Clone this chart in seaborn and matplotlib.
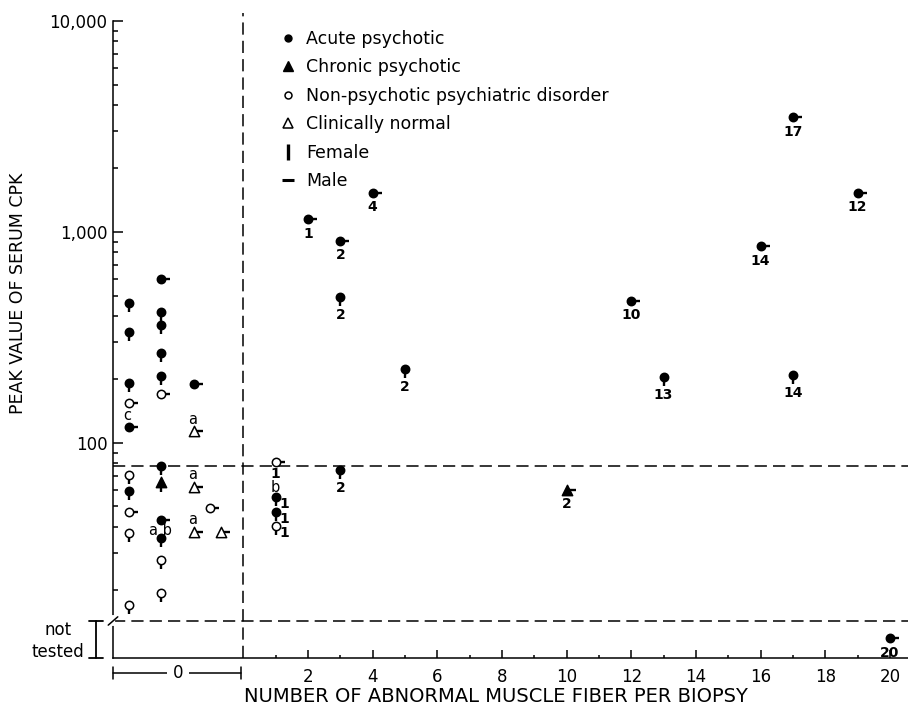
import numpy as np
import pandas as pd
import matplotlib
matplotlib.use("Agg")
import matplotlib.pyplot as plt
import matplotlib.transforms as mtransforms
from matplotlib.path import Path
from matplotlib.lines import Line2D
from matplotlib.ticker import FixedLocator, FuncFormatter, NullFormatter
import seaborn as sns

# values
# fibers = abnormal muscle fibers per biopsy; zero_col = column inside the "0" band
fibers = [0, 0, 0, 0, 0, 0, 0, 0, 0, 0,
          0, 0, 0, 0, 0, 0, 0, 0, 0, 0, 0, 0,
          0, 0, 0, 0, 0, 0,
          1, 1, 1, 1, 3, 2, 3, 3, 4, 5, 10, 12, 13, 16, 17, 17, 19, 20]
zero_col = [1, 1, 1, 1, 1, 1, 1, 1, 1, 1,
            2, 2, 2, 2, 2, 2, 2, 2, 2, 2, 2, 2,
            3, 3, 3, 3, 4, 5,
            0, 0, 0, 0, 0, 0, 0, 0, 0, 0, 0, 0, 0, 0, 0, 0, 0, 0]
cpk = [461, 336, 193, 155, 119, 70.5, 59, 47, 37.5, 17,
       599, 418, 362, 267, 208, 171, 78, 65, 43, 35.5, 28, 19.5,
       190, 114, 62, 38, 49, 38,
       81.5, 55.5, 47, 40.4, 74.5, 1152, 910, 492, 1536, 224, 60, 473, 206, 858, 3496, 210, 1536, np.nan]
group = ["A", "A", "A", "N", "A", "N", "A", "N", "N", "N",
         "A", "A", "A", "A", "A", "N", "A", "C", "A", "A", "N", "N",
         "A", "L", "L", "L", "N", "L",
         "N", "A", "A", "N", "A", "A", "A", "A", "A", "A", "C", "A", "A", "A", "A", "A", "A", "A"]
sex = ["F", "F", "F", "M", "M", "F", "F", "M", "F", "F",
       "M", "F", "F", "F", "F", "M", "F", "F", "M", "F", "F", "F",
       "M", "M", "M", "M", "M", "M",
       "M", "F", "F", "F", "F", "M", "M", "F", "M", "F", "M", "M", "F", "M", "M", "F", "M", "M"]
counts = [""] * 28 + ["1", "1", "1", "1", "2", "1", "2", "2", "4", "2", "2", "10", "13", "14", "17", "14", "12", "20"]
notes = ["", "", "", "", "c", "", "", "", "", "",
         "", "", "", "", "", "", "", "", "a b", "", "", "",
         "", "a", "a", "a", "", "",
         "", "b", "", "", "", "", "", "", "", "", "", "", "", "", "", "", "", ""]

group_names = {"A": "Acute psychotic", "C": "Chronic psychotic",
               "N": "Non-psychotic psychiatric disorder", "L": "Clinically normal"}
normal_limit = 78

# layout
ZERO_COL_X = {1: -3.54, 2: -2.55, 3: -1.52, 4: -1.03, 5: -0.69}
NOT_TESTED_Y = 11.9
BREAK_Y = 14.3
GROUP_STYLE = {"A": ("o", "black", 36), "C": ("^", "black", 55),
               "N": ("o", "white", 36), "L": ("^", "white", 55)}
TAIL_F = Path([(0, 0), (0, -1)])
TAIL_M = Path([(0, 0), (1, 0)])

df = pd.DataFrame({"fibers": fibers, "col": zero_col, "cpk": cpk, "group": group,
                   "sex": sex, "count": counts, "note": notes})
df["xpos"] = [f if f > 0 else ZERO_COL_X[c] for f, c in zip(df.fibers, df.col)]
df["ypos"] = df.cpk.fillna(NOT_TESTED_Y)

sns.set_style("ticks")
plt.rcParams["font.family"] = ["DejaVu Sans"]
plt.rcParams.update({"text.color": "black", "axes.labelcolor": "black",
                     "xtick.color": "black", "ytick.color": "black"})

fig = plt.figure(figsize=(9.08, 7.09), dpi=100)
ax = fig.add_axes([113 / 908, 51 / 709, 795 / 908, 637 / 709])
ax.set_yscale("log")
ax.set_xlim(-4.03, 20.56)
ax.set_ylim(9.57, 10000)

dash = (0, (8, 4))
ax.axhline(normal_limit, color="black", lw=1.1, ls=dash, zorder=1)
ax.axhline(BREAK_Y, color="black", lw=1.1, ls=dash, zorder=1)
ax.axvline(0, ymin=0, ymax=1.012, color="black", lw=1.1, ls=dash, zorder=1, clip_on=False)

# sex tails (female down, male right), then the group symbol on top
sns.scatterplot(data=df, x="xpos", y="ypos", style="sex", markers={"F": TAIL_F, "M": TAIL_M},
                s=170, color="black", edgecolor="black", linewidth=1.7, legend=False, zorder=2, ax=ax)
for g, (mk, fill, size) in GROUP_STYLE.items():
    sub = df[df.group == g]
    sns.scatterplot(x=sub.xpos, y=sub.ypos, marker=mk, s=size, color=fill, edgecolor="black",
                    linewidth=1.1, legend=False, zorder=3, ax=ax)

for _, r in df.iterrows():
    if r["count"]:
        if r.fibers == 1 and r.sex == "F":
            off = (6.5, -5)
        elif r.fibers == 1:
            off = (0, -8.5)
        elif r.sex == "F":
            off = (0, -13)
        else:
            off = (0, -10.5)
        ax.annotate(r["count"], (r.xpos, r.ypos), xytext=off, textcoords="offset points",
                    ha="center", va="center", fontsize=10, fontweight="bold")
    if r.note:
        if r.note == "a b":
            off = (0, -7.5)
        elif r.fibers == 1:
            off = (-0.5, 7)
        else:
            off = (-1, 8.5)
        ax.annotate(r.note, (r.xpos, r.ypos), xytext=off, textcoords="offset points",
                    ha="center", va="center", fontsize=10.5)

ax.yaxis.set_major_locator(FixedLocator([100, 1000, 10000]))
ax.yaxis.set_minor_locator(FixedLocator([v * d for d in (10, 100, 1000) for v in range(2, 10)]))
ax.yaxis.set_major_formatter(FuncFormatter(lambda v, _: f"{v:,.0f}"))
ax.yaxis.set_minor_formatter(NullFormatter())
ax.xaxis.set_major_locator(FixedLocator(list(range(2, 21, 2))))
ax.xaxis.set_minor_locator(FixedLocator(list(range(1, 20, 2))))
ax.tick_params(which="both", direction="in", colors="black", width=1.1)
ax.tick_params(axis="y", which="major", length=7, labelsize=12, pad=4)
ax.tick_params(axis="y", which="minor", length=3.5)
ax.tick_params(axis="x", which="major", length=6, labelsize=12, pad=7)
ax.tick_params(axis="x", which="minor", length=2.5)
sns.despine(ax=ax)
for sp in ("left", "bottom"):
    ax.spines[sp].set_color("black")
    ax.spines[sp].set_linewidth(1.1)
ax.set_xlabel("")
ax.set_ylabel("")

# axis break on the y axis
trans = mtransforms.blended_transform_factory(ax.transAxes, ax.transData)
ax.plot([0, 0], [13.8, 14.9], transform=trans, color="white", lw=3, clip_on=False, zorder=6)
ax.plot([-0.006, 0.006], [13.7, 15.0], transform=trans, color="black", lw=1.1, clip_on=False, zorder=7)

fig.text(18 / 908, 1 - 293 / 709, "PEAK VALUE OF SERUM CPK", rotation=90,
         ha="center", va="center", fontsize=12.5)
fig.text(496 / 908, 1 - 697 / 709, "NUMBER OF ABNORMAL MUSCLE FIBER PER BIOPSY",
         ha="center", va="center", fontsize=14)
fig.text(58 / 908, 1 - 641 / 709, "not\ntested", ha="center", va="center", fontsize=12, linespacing=1.25)
ax.annotate("", xy=(96 / 908, 1 - 621 / 709), xytext=(96 / 908, 1 - 658 / 709),
            xycoords="figure fraction", textcoords="figure fraction",
            arrowprops=dict(arrowstyle="|-|, widthA=0.5, widthB=0.5", lw=1.3, color="black",
                            shrinkA=0, shrinkB=0))
ax.annotate("", xy=(113 / 908, 1 - 673 / 709), xytext=(241 / 908, 1 - 673 / 709),
            xycoords="figure fraction", textcoords="figure fraction",
            arrowprops=dict(arrowstyle="|-|, widthA=0.4, widthB=0.4", lw=1.1, color="black",
                            shrinkA=0, shrinkB=0))
fig.text(178 / 908, 1 - 673 / 709, "0", ha="center", va="center", fontsize=12,
         bbox=dict(fc="white", ec="none", pad=4))

handles = [Line2D([], [], ls="none", marker="o", ms=5, mfc="black", mec="black", label=group_names["A"]),
           Line2D([], [], ls="none", marker="^", ms=6.5, mfc="black", mec="black", label=group_names["C"]),
           Line2D([], [], ls="none", marker="o", ms=5, mfc="white", mec="black", mew=1.1, label=group_names["N"]),
           Line2D([], [], ls="none", marker="^", ms=6.5, mfc="white", mec="black", mew=1.1, label=group_names["L"]),
           Line2D([], [], ls="none", marker="|", ms=11, mew=2.4, color="black", label="Female"),
           Line2D([], [], ls="none", marker="_", ms=9, mew=2.2, color="black", label="Male")]
ax.legend(handles=handles, loc="upper left", bbox_to_anchor=(279 / 908, 1 - 30 / 709),
          bbox_transform=fig.transFigure, frameon=False, fontsize=12.5, handlelength=1.0,
          handletextpad=0.55, labelspacing=0.6, borderpad=0, borderaxespad=0)

fig.savefig("out.png", dpi=100)
